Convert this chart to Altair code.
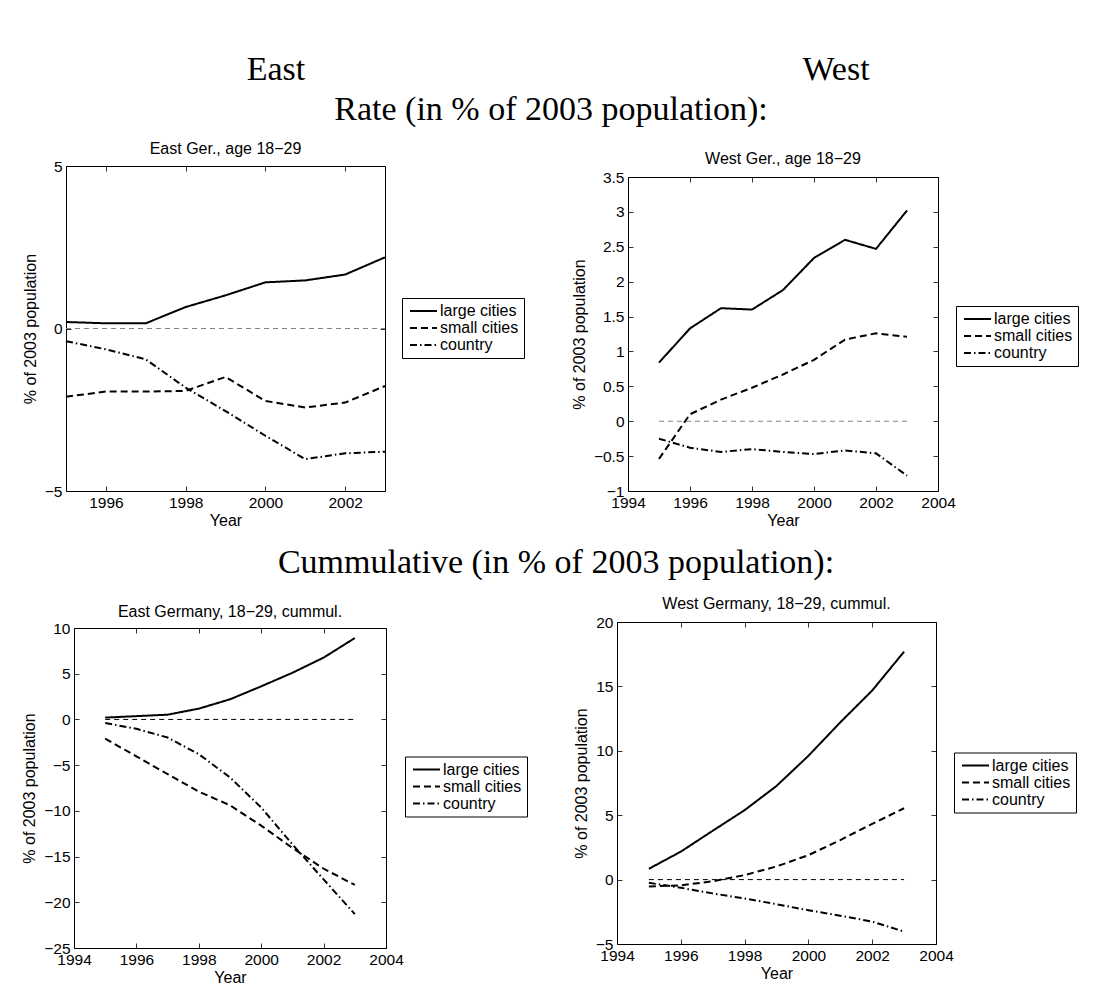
import altair as alt
import pandas as pd

years = [1995, 1996, 1997, 1998, 1999, 2000, 2001, 2002, 2003]
series_names = ["large cities", "small cities", "country"]

east_rate_large = [0.20, 0.16, 0.16, 0.66, 1.02, 1.42, 1.48, 1.66, 2.19]
east_rate_small = [-2.10, -1.94, -1.94, -1.92, -1.49, -2.23, -2.43, -2.28, -1.77]
east_rate_country = [-0.39, -0.64, -0.95, -1.82, -2.54, -3.30, -4.02, -3.84, -3.79]

west_rate_large = [0.84, 1.33, 1.62, 1.60, 1.88, 2.34, 2.60, 2.47, 3.02]
west_rate_small = [-0.54, 0.10, 0.31, 0.48, 0.67, 0.88, 1.17, 1.26, 1.21]
west_rate_country = [-0.25, -0.38, -0.44, -0.40, -0.44, -0.47, -0.42, -0.46, -0.78]

east_cum_large = [0.20, 0.36, 0.52, 1.18, 2.20, 3.62, 5.10, 6.76, 8.90]
east_cum_small = [-2.10, -4.04, -5.98, -7.90, -9.39, -11.62, -14.05, -16.33, -18.10]
east_cum_country = [-0.39, -1.03, -1.98, -3.80, -6.34, -9.64, -13.66, -17.50, -21.29]

west_cum_large = [0.84, 2.17, 3.79, 5.39, 7.27, 9.61, 12.21, 14.68, 17.70]
west_cum_small = [-0.54, -0.44, -0.13, 0.35, 1.02, 1.90, 3.07, 4.33, 5.54]
west_cum_country = [-0.25, -0.63, -1.07, -1.47, -1.91, -2.38, -2.80, -3.26, -4.04]

SANS = "Liberation Sans"
SERIF = "Liberation Serif"
dash_range = [[1, 0], [7, 4], [7, 3, 1.5, 3]]


def axis(orient, values, fmt=None, title=None, labels=True, tpad=4):
    kw = dict(
        orient=orient, values=values, domain=False, grid=False, ticks=True,
        tickSize=5, tickColor="black", tickWidth=0.8, offset=-5,
        labels=labels, labelFont=SANS, labelFontSize=15.5, labelColor="black",
        labelPadding=4, labelFlush=False, labelOverlap=False,
        titleFont=SANS, titleFontSize=16, titleFontWeight="normal",
        titleColor="black", titlePadding=tpad, title=title, minExtent=0,
    )
    if not labels:
        kw["maxExtent"] = 0
    if fmt is not None:
        kw["format"] = fmt
    return alt.Axis(**kw)


def panel(large, small, country, xdom, xticks, ydom, yticks, yfmt,
          zero_color, w, h, lx, ly):
    df = pd.DataFrame({
        "Year": years * 3,
        "value": large + small + country,
        "series": [s for s in series_names for _ in years],
    })
    zero = pd.DataFrame({"x0": [years[0]], "x1": [years[-1]], "y": [0]})
    xs = alt.Scale(domain=xdom, nice=False, zero=False)
    ys = alt.Scale(domain=ydom, nice=False, zero=False)
    lines = alt.Chart(df).mark_line(color="black", strokeWidth=2).encode(
        x=alt.X("Year:Q", scale=xs, axis=axis("bottom", xticks, "d", "Year", tpad=2)),
        y=alt.Y("value:Q", scale=ys,
                axis=axis("left", yticks, yfmt, "% of 2003 population", tpad=6)),
        strokeDash=alt.StrokeDash(
            "series:N",
            scale=alt.Scale(domain=series_names, range=dash_range),
            legend=alt.Legend(
                orient="none", legendX=lx, legendY=ly, title=None,
                symbolType="M-1,0H4.4", symbolSize=100, symbolStrokeWidth=2,
                symbolStrokeColor="black", symbolFillColor="transparent",
                labelFont=SANS, labelFontSize=16,
                labelColor="black", labelOffset=17, strokeColor="black",
                fillColor="white", padding=5, rowPadding=1,
            ),
        ),
    )
    zline = alt.Chart(zero).mark_rule(
        color=zero_color, strokeWidth=1, strokeDash=[5, 4]
    ).encode(
        x=alt.X("x0:Q", scale=xs, axis=axis("top", xticks, labels=False)),
        x2="x1:Q",
        y=alt.Y("y:Q", scale=ys, axis=axis("right", yticks, labels=False)),
    )
    return alt.layer(lines, zline).resolve_axis(
        x="independent", y="independent"
    ).properties(width=w, height=h, view=alt.ViewBackground(stroke="black", strokeWidth=1))


def title_chart(text, w, h, ty):
    return alt.Chart(pd.DataFrame({"t": [text]})).mark_text(
        font=SANS, fontSize=16, color="black", align="center", baseline="middle"
    ).encode(text="t:N", x=alt.value(w / 2), y=alt.value(ty)).properties(width=w, height=h)


def spacer():
    return alt.Chart(pd.DataFrame({"t": [0]})).mark_point(
        size=1, opacity=0
    ).encode(x=alt.value(0), y=alt.value(0)).properties(width=1, height=1)


def serif_text(text, x, y):
    return alt.Chart(pd.DataFrame({"t": [text]})).mark_text(
        font=SERIF, fontSize=34, color="black", align="center", baseline="middle"
    ).encode(text="t:N", x=alt.value(x), y=alt.value(y))


p1 = panel(east_rate_large, east_rate_small, east_rate_country,
           [1995, 2003], [1996, 1998, 2000, 2002], [-5, 5], [-5, 0, 5], "~g",
           "#808080", 319, 325, 336, 161)
p2 = panel(west_rate_large, west_rate_small, west_rate_country,
           [1994, 2004], [1994, 1996, 1998, 2000, 2002, 2004], [-1, 3.5],
           [-1, -0.5, 0, 0.5, 1, 1.5, 2, 2.5, 3, 3.5], "~g",
           "#808080", 310, 314, 328, 169)
p3 = panel(east_cum_large, east_cum_small, east_cum_country,
           [1994, 2004], [1994, 1996, 1998, 2000, 2002, 2004], [-25, 10],
           [-25, -20, -15, -10, -5, 0, 5, 10], "~g",
           "black", 312, 320, 331, 164.5)
p4 = panel(west_cum_large, west_cum_small, west_cum_country,
           [1994, 2004], [1994, 1996, 1998, 2000, 2002, 2004], [-5, 20],
           [-5, 0, 5, 10, 15, 20], "~g",
           "black", 319, 322, 337, 160.5)

c1 = alt.vconcat(title_chart("East Ger., age 18\u221229", 319, 20.7, 12), p1, spacing=0)
c2 = alt.vconcat(title_chart("West Ger., age 18\u221229", 310, 31.7, 22), p2, spacing=0)
c3 = alt.vconcat(title_chart("East Germany, 18\u221229, cummul.", 312, 20.7, 19.5), p3, spacing=0)
c4 = alt.vconcat(title_chart("West Germany, 18\u221229, cummul.", 319, 21.2, 11.5), p4, spacing=0)


def make_row(a, b, gap):
    inner = alt.hconcat(a, b, spacing=gap).resolve_scale(
        strokeDash="independent").resolve_legend(strokeDash="independent")
    return alt.hconcat(spacer(), inner, spacing=0).resolve_scale(
        strokeDash="independent").resolve_legend(strokeDash="independent")


row1 = make_row(c1, c2, 45)
row2 = make_row(c3, c4, 44)

header1 = alt.layer(
    serif_text("East", 256, 62),
    serif_text("West", 816, 62),
    serif_text("Rate (in % of 2003 population):", 531, 102),
).properties(width=1000, height=128)

header2 = alt.layer(
    serif_text("Cummulative (in % of 2003 population):", 536, 34),
).properties(width=1000, height=62)

chart = alt.vconcat(header1, row1, header2, row2, spacing=0).resolve_scale(
    strokeDash="independent"
).resolve_legend(strokeDash="independent").properties(
    padding={"left": 11, "top": 0, "right": 0, "bottom": 0}
).configure_view(stroke=None)

chart.save("out.html", embed_options={"renderer": "svg", "actions": False})
